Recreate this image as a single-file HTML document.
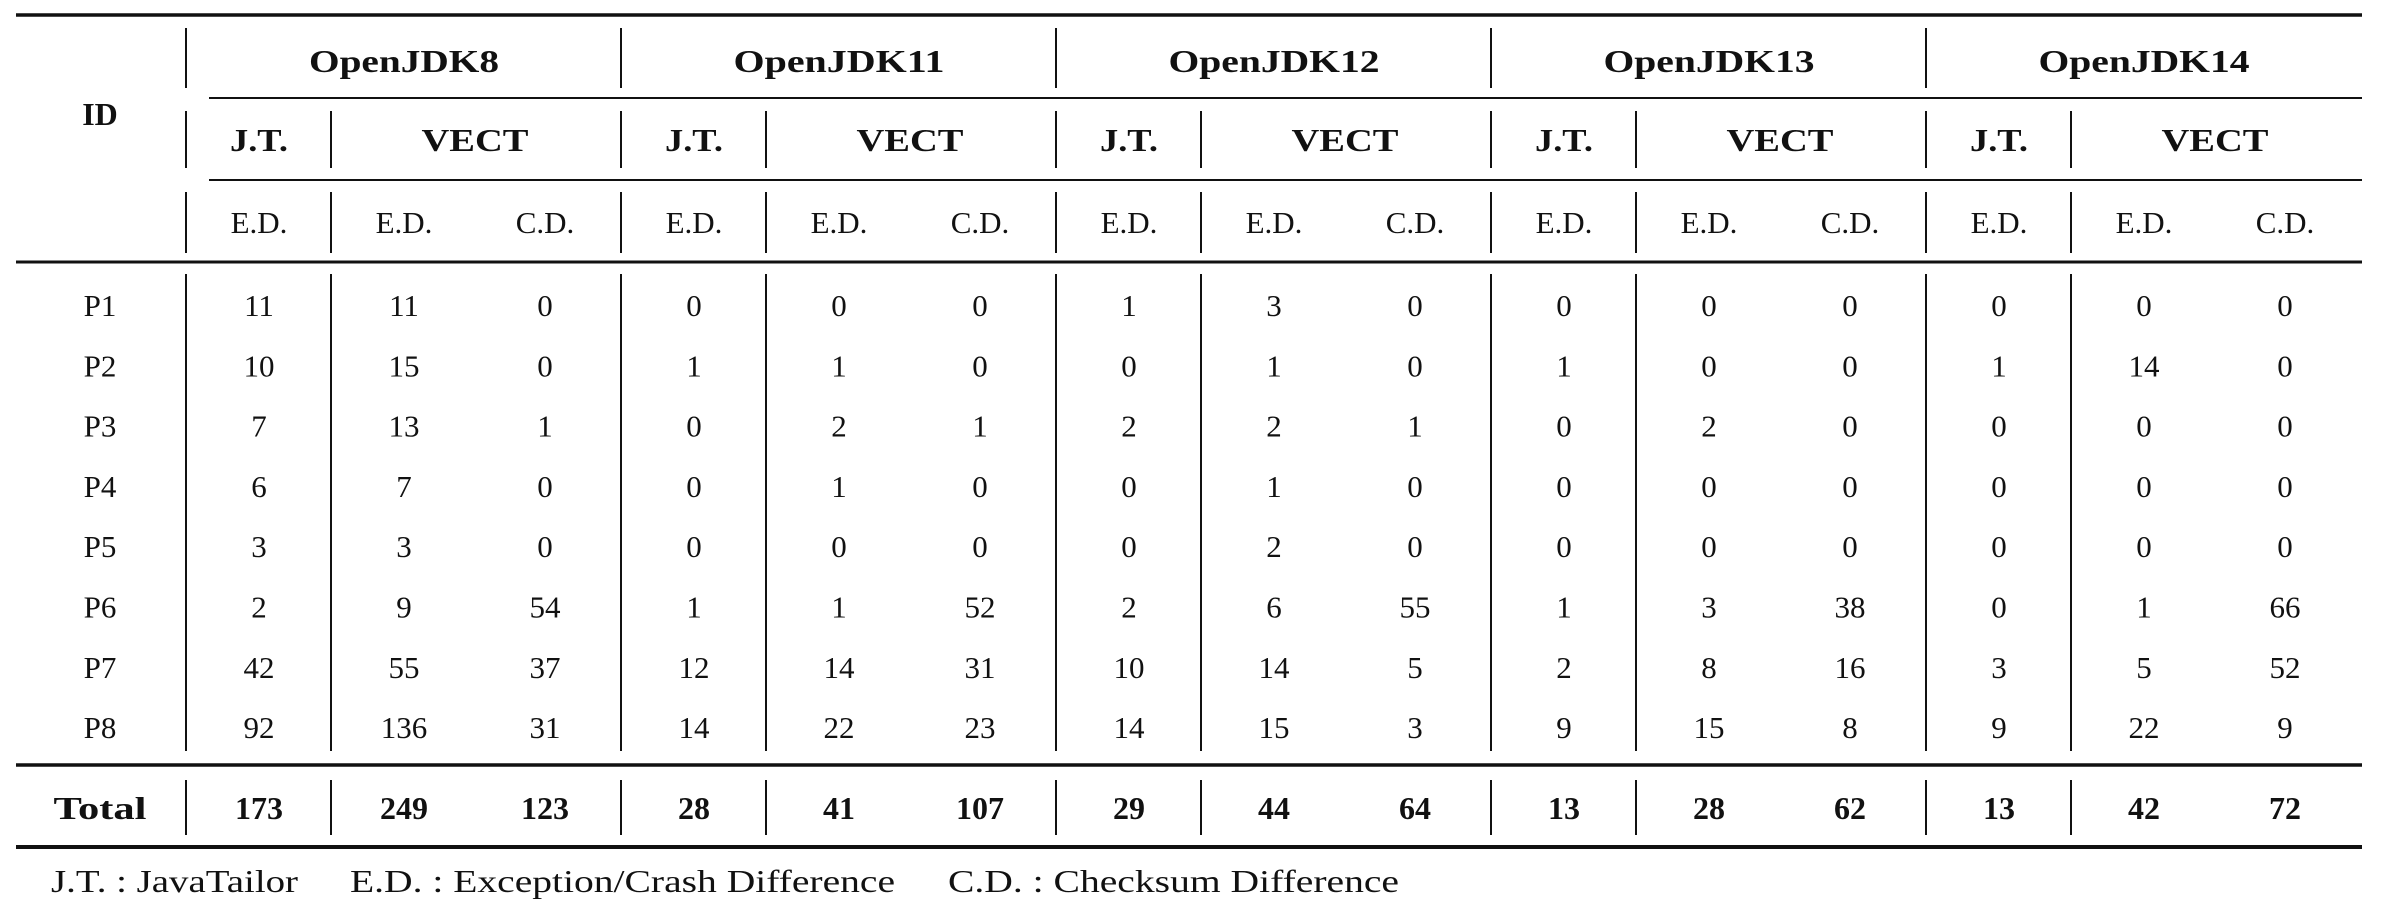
<!DOCTYPE html>
<html><head><meta charset="utf-8"><style>
html,body{margin:0;padding:0;background:#fff;}
svg{display:block;}
text{font-family:"Liberation Serif",serif;fill:#111;}
</style></head><body>
<svg id="tbl" width="2389" height="904" viewBox="0 0 2389 904" xmlns="http://www.w3.org/2000/svg"></svg>
<script>
const versions = ["OpenJDK8","OpenJDK11","OpenJDK12","OpenJDK13","OpenJDK14"];
const rowIds = ["P1","P2","P3","P4","P5","P6","P7","P8"];
const jtED = [[11,10,7,6,3,2,42,92],[0,1,0,0,0,1,12,14],[1,0,2,0,0,2,10,14],[0,1,0,0,0,1,2,9],[0,1,0,0,0,0,3,9]];
const vectED = [[11,15,13,7,3,9,55,136],[0,1,2,1,0,1,14,22],[3,1,2,1,2,6,14,15],[0,0,2,0,0,3,8,15],[0,14,0,0,0,1,5,22]];
const vectCD = [[0,0,1,0,0,54,37,31],[0,0,1,0,0,52,31,23],[0,0,1,0,0,55,5,3],[0,0,0,0,0,38,16,8],[0,0,0,0,0,66,52,9]];
const totJT = [173,28,29,13,13];
const totED = [249,41,44,28,42];
const totCD = [123,107,64,62,72];

const svg = document.getElementById('tbl');
const NS = "http://www.w3.org/2000/svg";
const L = 16, R = 2362, GW = 435, G0 = 186;
function mk(tag, attrs){const e=document.createElementNS(NS,tag);for(const k in attrs)e.setAttribute(k,attrs[k]);svg.appendChild(e);return e;}
function txt(x,y,s,bold,name,w){const t=mk('text',{x:x,y:y,'text-anchor':'middle','font-size':bold?32:31,'font-weight':bold?'bold':'normal'});t.textContent=s;


if(w){t.setAttribute('textLength',w);t.setAttribute('lengthAdjust','spacingAndGlyphs');}
return t;}
function hl(x1,x2,y,w,name){const e=mk('line',{x1:x1,x2:x2,y1:y,y2:y,stroke:'#111','stroke-width':w});

}
function vl(x,y1,y2){const e=mk('line',{x1:x,x2:x,y1:y1,y2:y2,stroke:'#111','stroke-width':2});

}
const rowY = i => 305 + i*60.3;
const colX = (g,c) => G0 + GW*g + [73,218,359][c];

hl(L,R,15,3.5,'top-rule');
hl(209,R,98,2,'group-rule');
hl(209,R,180,2,'subgroup-rule');
hl(L,R,262,3,'header-rule');
hl(L,R,765,3.5,'total-rule');
hl(L,R,847,4,'bottom-rule');

txt(100,125,'ID',true,'id-header');
versions.forEach((v,g)=>{
  const x0 = G0 + GW*g;
  vl(x0,28,88); vl(x0,111,168); vl(x0,192,253); vl(x0,274,751); vl(x0,780,835);
  const x1 = x0+145;
  vl(x1,111,168); vl(x1,192,253); vl(x1,274,751); vl(x1,780,835);
  txt(x0+218,72,v,true,'version-header',g===0?190:211);
  txt(colX(g,0),151,'J.T.',true,'jt-header',58);
  txt(x0+289,151,'VECT',true,'vect-header',107);
  txt(colX(g,0),233,'E.D.',false,'ed-header');
  txt(colX(g,1),233,'E.D.',false,'ed-header');
  txt(colX(g,2),233,'C.D.',false,'cd-header');
  rowIds.forEach((r,i)=>{
    txt(colX(g,0),rowY(i)+11,jtED[g][i],false,'cell-jt-ed');
    txt(colX(g,1),rowY(i)+11,vectED[g][i],false,'cell-vect-ed');
    txt(colX(g,2),rowY(i)+11,vectCD[g][i],false,'cell-vect-cd');
  });
  txt(colX(g,0),819,totJT[g],true,'total-jt');
  txt(colX(g,1),819,totED[g],true,'total-vect-ed');
  txt(colX(g,2),819,totCD[g],true,'total-vect-cd');
});
rowIds.forEach((r,i)=>txt(100,rowY(i)+11,r,false,'row-id'));
txt(100,819,'Total',true,'total-label',93);
[['J.T. : JavaTailor',51,247],['E.D. : Exception/Crash Difference',350,545],['C.D. : Checksum Difference',948,451]].forEach(([s,x,w])=>{
  const t=mk('text',{x:x,y:892,'font-size':32,textLength:w,lengthAdjust:'spacingAndGlyphs'});t.textContent=s;
  
  
});
</script>
</body></html>
